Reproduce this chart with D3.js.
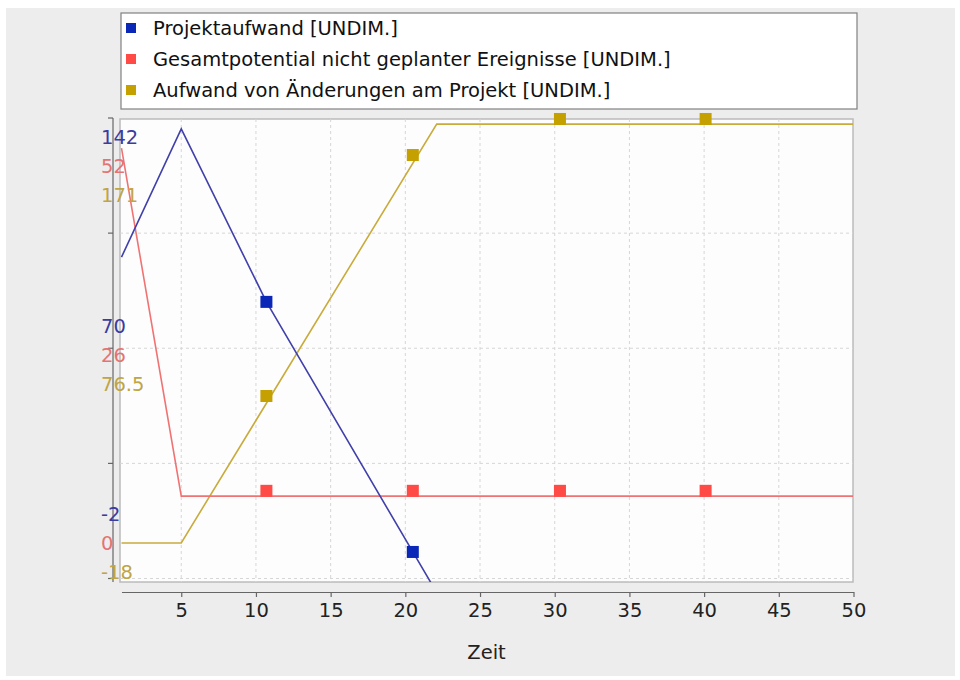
<!DOCTYPE html>
<html><head><meta charset="utf-8">
<script src="https://cdn.jsdelivr.net/npm/d3@7"></script>
<style>
html,body{margin:0;padding:0;background:#fff;}
svg{display:block;font-family:"DejaVu Sans",Verdana,sans-serif;}
</style></head>
<body>
<svg id="chart" width="960" height="680"></svg>
<script>
// ---- data ----
const seriesNames = ["Projektaufwand [UNDIM.]", "Gesamtpotential nicht geplanter Ereignisse [UNDIM.]", "Aufwand von Änderungen am Projekt [UNDIM.]"];
const lineColors = ["#4040aa", "#f07373", "#c9ab3c"];
const markerColors = ["#0a27b8", "#ff4a45", "#c4a000"];
const axisLabelColors = ["#3b3ba0", "#e57373", "#bfa545"];

const projektTime = [1, 5, 10.7, 20.5, 22];
const projektValues = [98.5, 138.6, 84.5, 6.3, -5.6];
const gesamtTime = [1, 5, 50];
const gesamtValues = [48.6, 9.3, 9.3];
const aenderungTime = [1, 5, 22.1, 50];
const aenderungValues = [-3.4, -3.4, 168.5, 168.5];

const markerTime = [10.7, 20.5, 30.35, 40.1];
const projektMarkers = [84.5, 6.3];
const gesamtMarkers = [9.9, 9.9, 9.9, 9.9];
const aenderungMarkers = [56.9, 155.8, 170.6, 170.6];

// per-series axis labels: max, mid, min
const projektScaleLabels = ["142", "70", "-2"];
const gesamtScaleLabels = ["52", "26", "0"];
const aenderungScaleLabels = ["171", "76.5", "-18"];
const projektDomain = [-2, 142];
const gesamtDomain = [0, 52];
const aenderungDomain = [-18, 171];

const xTicks = [5, 10, 15, 20, 25, 30, 35, 40, 45, 50];
const xLabel = "Zeit";

// ---- layout ----
const svg = d3.select("#chart");
const plot = {x0: 120, x1: 853, y0: 119, y1: 582};
const yTop = 118, yBottom = 578.5;

svg.append("rect").attr("x", 6).attr("y", 8).attr("width", 949).attr("height", 668).attr("fill", "#ededed");

const x = d3.scaleLinear().domain([1, 50]).range([121.5, 853.5]);
const yScales = [projektDomain, gesamtDomain, aenderungDomain].map(d => d3.scaleLinear().domain(d).range([yBottom, yTop]));

// plot frame
svg.append("rect").attr("x", plot.x0).attr("y", plot.y0).attr("width", plot.x1 - plot.x0).attr("height", plot.y1 - plot.y0)
  .attr("fill", "#fdfdfd").attr("stroke", "#bbbbbb").attr("stroke-width", 1.5);

// grid
const gridY = d3.scaleLinear().domain([0, 4]).range([yTop, yBottom]);
svg.append("g").selectAll("line").data([1, 2, 3, 4]).join("line")
  .attr("x1", plot.x0).attr("x2", plot.x1).attr("y1", d => gridY(d)).attr("y2", d => gridY(d))
  .attr("stroke", "#d6d6d6").attr("stroke-dasharray", "3,3");
svg.append("g").selectAll("line").data(xTicks.filter(t => t < 50)).join("line")
  .attr("x1", d => x(d)).attr("x2", d => x(d)).attr("y1", plot.y0).attr("y2", plot.y1)
  .attr("stroke", "#d6d6d6").attr("stroke-dasharray", "3,3");

// clip
svg.append("clipPath").attr("id", "clip").append("rect")
  .attr("x", plot.x0).attr("y", plot.y0).attr("width", plot.x1 - plot.x0).attr("height", plot.y1 - plot.y0);

const series = [
  {t: projektTime, v: projektValues, mt: markerTime.slice(0, 2), mv: projektMarkers},
  {t: gesamtTime, v: gesamtValues, mt: markerTime, mv: gesamtMarkers},
  {t: aenderungTime, v: aenderungValues, mt: markerTime, mv: aenderungMarkers}
];
const g = svg.append("g").attr("clip-path", "url(#clip)");
[2, 1, 0].forEach(i => {
  const s = series[i];
  const pts = s.t.map((t, k) => [t, s.v[k]]);
  const line = d3.line().x(d => x(d[0])).y(d => yScales[i](d[1]));
  g.append("path").attr("d", line(pts)).attr("fill", "none").attr("stroke", lineColors[i]).attr("stroke-width", 1.6);
});
const mg = svg.append("g");
[2, 1, 0].forEach(i => {
  const s = series[i];
  const ms = 12;
  mg.append("g").selectAll("rect").data(s.mt.map((t, k) => [t, s.mv[k]])).join("rect")
    .attr("x", d => x(d[0]) - ms / 2).attr("y", d => yScales[i](d[1]) - ms / 2)
    .attr("width", ms).attr("height", ms).attr("fill", markerColors[i]);
});

// left axis
const la = svg.append("g");
la.append("line").attr("x1", 113).attr("x2", 113).attr("y1", yTop).attr("y2", 582).attr("stroke", "#666").attr("stroke-width", 1.2);
la.selectAll("line.tk").data([0, 1, 2, 3, 4]).join("line").attr("class", "tk")
  .attr("x1", 108).attr("x2", 113).attr("y1", d => gridY(d)).attr("y2", d => gridY(d)).attr("stroke", "#666").attr("stroke-width", 1.2);
const scaleLabels = [projektScaleLabels, gesamtScaleLabels, aenderungScaleLabels];
const groupStart = [yTop + 19, gridY(2) - 22, yBottom - 64];
[0, 1, 2].forEach(pos => {
  [0, 1, 2].forEach(i => {
    svg.append("text").attr("x", 101).attr("y", groupStart[pos] + i * 29)
      .attr("dominant-baseline", "central").attr("font-size", 19.5)
      .attr("fill", axisLabelColors[i]).text(scaleLabels[i][pos]);
  });
});

// bottom axis
const xa = svg.append("g").attr("transform", "translate(0,592)")
  .call(d3.axisBottom(x).tickValues(xTicks).tickSize(5).tickSizeOuter(0).tickPadding(6).tickFormat(d3.format("d")));
xa.select(".domain").attr("stroke", "#666").attr("stroke-width", 1.2);
xa.selectAll(".tick line").attr("stroke", "#666").attr("stroke-width", 1.2);
xa.selectAll(".tick text").attr("font-size", 19.5).attr("fill", "#222").attr("font-family", "DejaVu Sans, sans-serif");
svg.append("text").attr("x", (plot.x0 + plot.x1) / 2).attr("y", 652).attr("text-anchor", "middle")
  .attr("dominant-baseline", "central").attr("font-size", 19.5).attr("fill", "#222").text(xLabel);

// legend
const lg = svg.append("g");
lg.append("rect").attr("x", 121).attr("y", 13).attr("width", 736).attr("height", 96).attr("fill", "#fff").attr("stroke", "#808080").attr("stroke-width", 1.2);
seriesNames.forEach((n, i) => {
  const cy = 28 + i * 31;
  lg.append("rect").attr("x", 126).attr("y", cy - 5).attr("width", 10).attr("height", 10).attr("fill", markerColors[i]);
  lg.append("text").attr("x", 153).attr("y", cy).attr("dominant-baseline", "central").attr("font-size", 19.5).attr("fill", "#111").text(n);
});
</script>
</body></html>
